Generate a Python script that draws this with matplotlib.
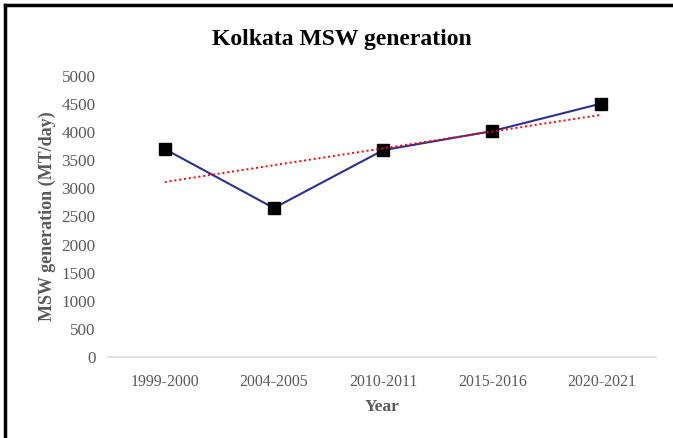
import matplotlib
matplotlib.use("Agg")
import matplotlib.pyplot as plt
from matplotlib.lines import Line2D
import numpy as np

plt.rcParams['font.family'] = ['Liberation Serif', 'DejaVu Serif']

years = ["1999-2000", "2004-2005", "2010-2011", "2015-2016", "2020-2021"]
msw = [3700, 2650, 3680, 4020, 4510]
yticks = [0, 500, 1000, 1500, 2000, 2500, 3000, 3500, 4000, 4500, 5000]

grey = "#595959"

fig = plt.figure(figsize=(6.73, 4.38), dpi=100)
ax = fig.add_axes([108 / 673, 1 - 357 / 438, 548 / 673, (357 - 76) / 438])

x = np.arange(len(years))
ax.plot(x, msw, color="#2B3090", linewidth=1.5, marker="s", markersize=8,
        markerfacecolor="black", markeredgecolor="black", zorder=3)

# linear trend line
k, b = np.polyfit(x, msw, 1)
ax.plot(x, k * x + b, color="red", linestyle=(0, (1, 1.5)), linewidth=1.4, zorder=4)

ax.set_xlim(-0.52, 4.5)
ax.set_ylim(0, 5000)
ax.set_xticks(x)
ax.set_xticklabels(years)
ax.set_yticks(yticks)
ax.tick_params(axis='both', length=0, labelcolor=grey)
ax.tick_params(axis='x', pad=12, labelsize=11.3)
ax.tick_params(axis='y', pad=9, labelsize=12.3)

for s in ["top", "right", "left"]:
    ax.spines[s].set_visible(False)
ax.spines["bottom"].set_color("#d9d9d9")
ax.spines["bottom"].set_linewidth(1.2)

ax.set_xlabel("Year", fontsize=12.5, fontweight="bold", color=grey, labelpad=7)
ax.set_ylabel("MSW generation (MT/day)", fontsize=13, fontweight="bold", color=grey, labelpad=4)
fig.text(342 / 673, 1 - 39 / 438, "Kolkata MSW generation", ha="center", va="center",
         fontsize=17, fontweight="bold", color="black")

# outer frame (top and left only visible)
fig.add_artist(Line2D([5 / 673, 1], [1 - 5 / 438, 1 - 5 / 438], color="black", linewidth=2.5,
                      transform=fig.transFigure))
fig.add_artist(Line2D([5 / 673, 5 / 673], [0, 1 - 5 / 438], color="black", linewidth=2.5,
                      transform=fig.transFigure))

fig.savefig("out.png", dpi=100)
